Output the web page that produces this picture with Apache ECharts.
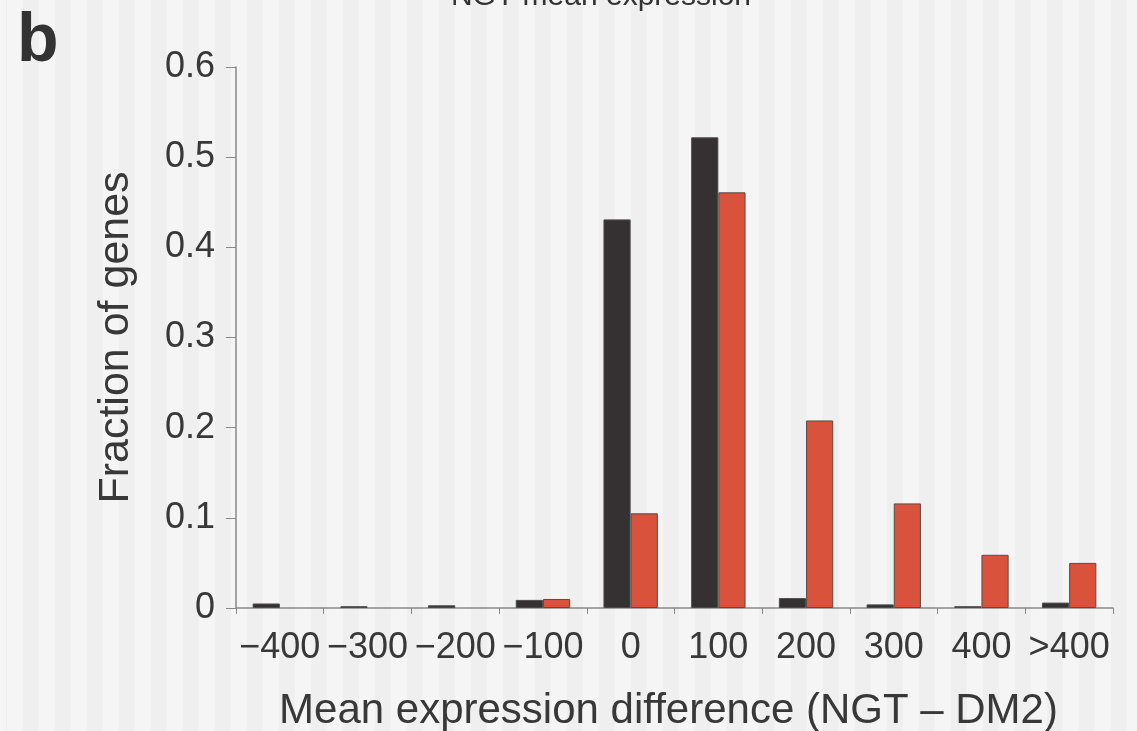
<!DOCTYPE html>
<html>
<head>
<meta charset="utf-8">
<script src="https://cdn.jsdelivr.net/npm/echarts@6/dist/echarts.min.js"></script>
<style>
  html, body { margin: 0; padding: 0; }
  #chart {
    width: 1137px; height: 731px;
    background: repeating-linear-gradient(90deg, #f5f5f5 0px, #f5f5f5 16px, #efefef 16px, #efefef 32px);
    background-position: 7px 0;
  }
</style>
</head>
<body>
<div id="chart"></div>
<script>
const categories = ['\u2212400', '\u2212300', '\u2212200', '\u2212100', '0', '100', '200', '300', '400', '>400'];
const blackValues = [0.005, 0.002, 0.003, 0.009, 0.431, 0.522, 0.011, 0.004, 0.002, 0.006];
const redValues   = [0, 0, 0, 0.010, 0.105, 0.461, 0.208, 0.116, 0.059, 0.050];
const yTicks = [0, 0.1, 0.2, 0.3, 0.4, 0.5, 0.6];

const chart = echarts.init(document.getElementById('chart'), null, { renderer: 'canvas' });
const fontFamily = '"Liberation Sans", Arial, sans-serif';
const textColor = '#383838';
const hideZero = function (v) { return v === 0 ? '-' : v; };

chart.setOption({
  backgroundColor: 'transparent',
  animation: false,
  graphic: [
    { type: 'text', left: 17, top: 8,
      style: { text: 'b', font: 'bold 68px ' + fontFamily, fill: '#333' } },
    { type: 'text', x: 601, y: 12,
      style: { text: 'NGT mean expression', font: '30px ' + fontFamily, fill: '#333', align: 'center', verticalAlign: 'bottom' } }
  ],
  grid: { left: 236, right: 24, top: 67, bottom: 123, containLabel: false, outerBoundsMode: 'none' },
  xAxis: {
    type: 'category',
    data: categories,
    boundaryGap: true,
    name: 'Mean expression difference (NGT \u2013 DM2)',
    nameLocation: 'middle',
    nameGap: 82,
    nameTextStyle: { fontSize: 42, color: textColor, fontFamily: fontFamily, padding: [0, 12, 0, 0] },
    axisLine: { lineStyle: { color: '#888', width: 1.5 } },
    axisTick: { show: true, length: 6, lineStyle: { color: '#888' } },
    axisLabel: { fontSize: 36, color: textColor, fontFamily: fontFamily, margin: 22, interval: 0 },
    splitLine: { show: false }
  },
  yAxis: {
    type: 'value',
    min: 0, max: 0.6, interval: 0.1,
    name: 'Fraction of genes',
    nameLocation: 'middle',
    nameGap: 98,
    nameTextStyle: { fontSize: 43, color: textColor, fontFamily: fontFamily },
    axisLine: { show: true, lineStyle: { color: '#888', width: 1.5 } },
    axisTick: { show: true, length: 10, lineStyle: { color: '#888' } },
    axisLabel: {
      fontSize: 36, color: textColor, fontFamily: fontFamily, margin: 21,
      formatter: function (v) {
        const t = yTicks.find(function (x) { return Math.abs(x - v) < 1e-9; });
        return t === 0 ? '0' : String(t);
      }
    },
    splitLine: { show: false }
  },
  series: [
    {
      name: 'black', type: 'bar', data: blackValues.map(hideZero),
      barGap: '0%', barCategoryGap: '38%',
      itemStyle: { color: '#353132', borderColor: '#4a4a4a', borderWidth: 1 }
    },
    {
      name: 'red', type: 'bar', data: redValues.map(hideZero),
      barGap: '0%', barCategoryGap: '38%',
      itemStyle: { color: '#d9523b', borderColor: '#5a4a45', borderWidth: 1 }
    }
  ]
});
</script>
</body>
</html>
